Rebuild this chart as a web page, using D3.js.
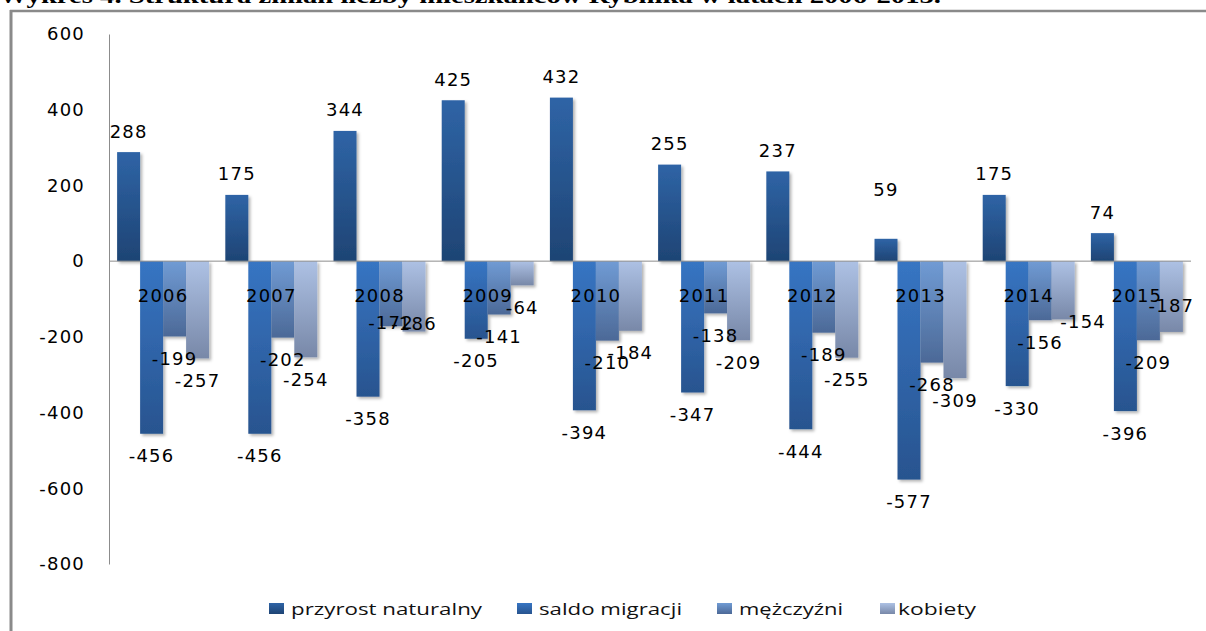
<!DOCTYPE html>
<html>
<head>
<meta charset="utf-8">
<script src="https://cdn.jsdelivr.net/npm/d3@7"></script>
<style>
  html, body { margin: 0; padding: 0; background: #fff; }
  svg { display: block; }
  .val { font-family: "DejaVu Sans", Verdana, sans-serif; font-size: 18px; letter-spacing: 1.2px; fill: #000; }
  .legend text { font-family: "Open Sans", "Noto Sans", sans-serif; font-size: 17px; fill: #111; }
</style>
</head>
<body>
<svg id="chart"></svg>
<script>
/* chart data */
var years = ['2006', '2007', '2008', '2009', '2010', '2011', '2012', '2013', '2014', '2015'];
var seriesNames = ['przyrost naturalny', 'saldo migracji', 'mężczyźni', 'kobiety'];
var przyrost = [288, 175, 344, 425, 432, 255, 237, 59, 175, 74];
var saldo = [-456, -456, -358, -205, -394, -347, -444, -577, -330, -396];
var mezczyzni = [-199, -202, -172, -141, -210, -138, -189, -268, -156, -209];
var kobiety = [-257, -254, -186, -64, -184, -209, -255, -309, -154, -187];
var yTicks = [600, 400, 200, 0, -200, -400, -600, -800];
var title = 'Wykres 4. Struktura zmian liczby mieszkańców Rybnika w latach 2006-2015.';

/* layout */
var width = 1206;
var height = 631;
var colors = [
    ['#2f64a6', '#1e4474'],
    ['#3775c3', '#28548f'],
    ['#709bd4', '#4c6997'],
    ['#adc1e4', '#7888a8']
];
/* labels that were moved by hand in the original: [dx, dy] */
var labelShift = {
    '2008|2': [0, -26],
    '2008|3': [0, -30],
    '2013|0': [0, -28],
    '2014|3': [20, -20],
    '2015|3': [0, -48]
};

var svg = d3.select('#chart').attr('width', width).attr('height', height);

var seriesValues = [przyrost, saldo, mezczyzni, kobiety];
var data = years.map(function(yr, i){
    return {
        year: yr,
        values: seriesValues.map(function(s, k){ return {year: yr, k: k, v: s[i]}; })
    };
});

var y = d3.scaleLinear().domain([-800, 600]).range([564, 34]);
var x0 = d3.scaleBand().domain(years).range([109, 1191]).paddingInner(0.15).paddingOuter(0.075);
var x1 = d3.scaleBand().domain(d3.range(seriesNames.length)).range([0, x0.bandwidth()]);

/* gradients and shadow */
var defs = svg.append('defs');
colors.forEach(function(c, k){
    var g = defs.append('linearGradient').attr('id', 'grad' + k)
        .attr('x1', 0).attr('y1', 0).attr('x2', 0).attr('y2', 1);
    g.append('stop').attr('offset', '0%').attr('stop-color', c[0]);
    g.append('stop').attr('offset', '100%').attr('stop-color', c[1]);
});
var f = defs.append('filter').attr('id', 'shadow')
    .attr('x', '-20%').attr('y', '-10%').attr('width', '150%').attr('height', '130%');
f.append('feDropShadow').attr('dx', 2).attr('dy', 2).attr('stdDeviation', 1.5)
    .attr('flood-color', '#000').attr('flood-opacity', 0.3);

/* title, cut off by the top edge like in the scan */
svg.append('text')
    .attr('x', -1).attr('y', 3)
    .attr('textLength', 942).attr('lengthAdjust', 'spacingAndGlyphs')
    .style('font-family', '"Liberation Serif", serif')
    .style('font-weight', 'bold').style('font-size', '22px')
    .text(title);

/* frame */
svg.append('line').attr('x1', 11).attr('x2', 11).attr('y1', 10).attr('y2', height)
    .attr('stroke', '#8a8a8a').attr('stroke-width', 3);
svg.append('line').attr('x1', 10).attr('x2', width).attr('y1', 11).attr('y2', 11)
    .attr('stroke', '#8a8a8a').attr('stroke-width', 2.5);

/* y axis (plain hyphen for negatives, like the original) */
var yAxis = svg.append('g')
    .attr('transform', 'translate(109,0)')
    .call(d3.axisLeft(y).tickValues(yTicks).tickSize(0).tickSizeOuter(0).tickPadding(24)
        .tickFormat(function(d){ return String(d); }));
yAxis.select('.domain').attr('stroke', '#8c8c8c');
yAxis.selectAll('text').attr('class', 'val').attr('fill', '#000');

/* bars */
var groups = svg.append('g').selectAll('g')
    .data(data)
    .enter()
    .append('g')
    .attr('transform', function(d){ return 'translate(' + x0(d.year) + ',0)'; });

groups.selectAll('rect')
    .data(function(d){ return d.values; })
    .enter()
    .append('rect')
    .attr('x', function(d){ return x1(d.k); })
    .attr('width', x1.bandwidth())
    .attr('y', function(d){ return y(Math.max(0, d.v)); })
    .attr('height', function(d){ return Math.abs(y(d.v) - y(0)); })
    .attr('fill', function(d){ return 'url(#grad' + d.k + ')'; })
    .attr('filter', 'url(#shadow)');

/* zero line */
svg.append('line')
    .attr('x1', 109).attr('x2', 1191)
    .attr('y1', y(0)).attr('y2', y(0))
    .attr('stroke', '#8c8c8c');

/* category labels */
svg.append('g').selectAll('text')
    .data(years)
    .enter()
    .append('text')
    .attr('class', 'val')
    .attr('text-anchor', 'middle')
    .attr('x', function(d){ return x0(d) + x0.bandwidth() / 2; })
    .attr('y', 302)
    .text(function(d){ return d; });

/* value labels */
groups.selectAll('text')
    .data(function(d){ return d.values; })
    .enter()
    .append('text')
    .attr('class', 'val')
    .attr('text-anchor', 'middle')
    .attr('dy', '0.36em')
    .attr('x', function(d){
        var s = labelShift[d.year + '|' + d.k];
        return x1(d.k) + x1.bandwidth() / 2 + (s ? s[0] : 0);
    })
    .attr('y', function(d){
        var s = labelShift[d.year + '|' + d.k];
        var base = d.v >= 0 ? y(d.v) - 21 : y(d.v) + 22;
        return base + (s ? s[1] : 0);
    })
    .text(function(d){ return d.v; });

/* legend */
var legendPos = [[269, 291, 191], [517, 539, 143], [717, 739, 104], [880, 898, 78]];
var legend = svg.append('g').attr('class', 'legend')
    .selectAll('g')
    .data(seriesNames)
    .enter()
    .append('g');
legend.append('rect')
    .attr('x', function(d, i){ return legendPos[i][0]; })
    .attr('y', 603)
    .attr('width', 15).attr('height', 11)
    .attr('fill', function(d, i){ return 'url(#grad' + i + ')'; });
legend.append('text')
    .attr('x', function(d, i){ return legendPos[i][1]; })
    .attr('y', 615)
    .attr('textLength', function(d, i){ return legendPos[i][2]; })
    .attr('lengthAdjust', 'spacingAndGlyphs')
    .text(function(d){ return d; });
</script>
</body>
</html>
